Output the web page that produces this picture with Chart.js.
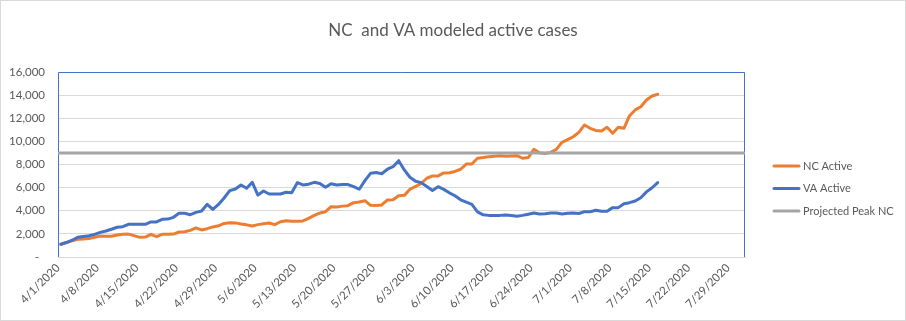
<!DOCTYPE html>
<html>
<head>
<meta charset="utf-8">
<title>NC and VA modeled active cases</title>
<script src="https://cdn.jsdelivr.net/npm/chart.js@4.4.1/dist/chart.umd.min.js"></script>
<style>
  html, body { margin: 0; padding: 0; background: #fff; }
  #wrap { width: 906px; height: 321px; }
</style>
</head>
<body>
<div id="wrap"><canvas id="casesChart" width="906" height="321"></canvas></div>
<script>
// ===== Modeled active cases, daily from 4/1/2020 =====

const chartTitle = 'NC  and VA modeled active cases';

// x axis tick labels, one per week
const tickLabels = ['4/1/2020', '4/8/2020', '4/15/2020', '4/22/2020', '4/29/2020', '5/6/2020',
    '5/13/2020', '5/20/2020', '5/27/2020', '6/3/2020', '6/10/2020', '6/17/2020',
    '6/24/2020', '7/1/2020', '7/8/2020', '7/15/2020', '7/22/2020', '7/29/2020'];

const seriesNames = ['NC Active', 'VA Active', 'Projected Peak NC'];

// daily values, 4/1 through 7/16
const ncActive = [
    1100, 1250, 1400, 1530, 1560, 1590, 1700, 1820, 1790, 1800,
    1900, 1960, 1980, 1850, 1700, 1720, 1960, 1760, 1960, 1960,
    1980, 2160, 2180, 2300, 2510, 2340, 2450, 2600, 2700, 2900,
    2970, 2950, 2850, 2780, 2680, 2800, 2880, 2940, 2800, 3050,
    3140, 3100, 3100, 3120, 3340, 3600, 3800, 3920, 4350, 4320,
    4400, 4440, 4700, 4760, 4870, 4470, 4450, 4500, 4930, 4960,
    5300, 5330, 5860, 6100, 6370, 6810, 7010, 7010, 7270, 7290,
    7400, 7590, 8040, 8040, 8540, 8600, 8680, 8720, 8760, 8710,
    8740, 8760, 8540, 8600, 9310, 9010, 8960, 9050, 9310, 9920,
    10150, 10400, 10780, 11420, 11130, 10950, 10900, 11220, 10700, 11220,
    11130, 12220, 12720, 13000, 13580, 13930, 14070
];

const vaActive = [
    1100, 1250, 1450, 1700, 1780, 1840, 1950, 2130, 2250, 2400,
    2570, 2620, 2830, 2830, 2830, 2830, 3030, 3030, 3260, 3280,
    3430, 3780, 3780, 3660, 3860, 3980, 4560, 4120, 4550, 5100,
    5740, 5880, 6230, 5940, 6460, 5360, 5710, 5450, 5450, 5450,
    5600, 5560, 6430, 6230, 6300, 6460, 6350, 6030, 6340, 6230,
    6280, 6260, 6080, 5860, 6600, 7240, 7300, 7200, 7590, 7810,
    8330, 7530, 6900, 6550, 6430, 6100, 5750, 6080, 5850, 5550,
    5300, 4950, 4750, 4550, 3900, 3650, 3600, 3600, 3600, 3630,
    3580, 3520, 3600, 3700, 3810, 3720, 3750, 3800, 3810, 3720,
    3780, 3810, 3760, 3920, 3920, 4040, 3950, 3950, 4270, 4270,
    4610, 4700, 4840, 5130, 5630, 5990, 6440
];

const projectedPeak = 9000;

const yTicks = [0, 2000, 4000, 6000, 8000, 10000, 12000, 14000, 16000];

const colors = ['#ED7D31', '#4472C4', '#A5A5A5'];
const textColor = '#595959';
const gridColor = '#D9D9D9';
const fontFamily = 'Lato, "Open Sans", sans-serif';

// days shown on the axis (4/1 .. 8/1)
const DAY_SPAN = 122;

/**
 * Points sit in the middle of their day slot
 */
function toPoints(values) {
    return values.map((v, i) => ({ x: i + 0.5, y: v }));
}

/**
 * White background, outer frame, title and the blue plot-area border
 */
const frame = {
    id: 'frame',
    beforeDraw(chart) {
        const ctx = chart.ctx;
        ctx.save();
        ctx.fillStyle = '#fff';
        ctx.fillRect(0, 0, chart.width, chart.height);
        ctx.strokeStyle = gridColor;
        ctx.lineWidth = 1;
        ctx.strokeRect(0.5, 0.5, chart.width - 1, chart.height - 1);

        // title centred on the whole chart, not only the plot
        ctx.font = '17px ' + fontFamily;
        ctx.fillStyle = textColor;
        ctx.textAlign = 'center';
        ctx.textBaseline = 'middle';
        ctx.fillText(chartTitle, chart.width / 2, 31);
        ctx.restore();
    },
    beforeDatasetsDraw(chart) {
        const { ctx, chartArea: a } = chart;
        ctx.save();
        ctx.strokeStyle = '#4472C4';
        ctx.lineWidth = 1;
        ctx.beginPath();
        ctx.moveTo(a.left + 0.5, a.bottom);
        ctx.lineTo(a.left + 0.5, a.top + 0.5);
        ctx.lineTo(a.right - 0.5, a.top + 0.5);
        ctx.lineTo(a.right - 0.5, a.bottom);
        ctx.stroke();
        ctx.restore();
    }
};

/**
 * Legend on the right side, short line samples
 */
const sideLegend = {
    id: 'sideLegend',
    afterDraw(chart) {
        const ctx = chart.ctx;
        ctx.save();
        ctx.font = '11px ' + fontFamily;
        ctx.fillStyle = textColor;
        ctx.textBaseline = 'middle';
        ctx.lineWidth = 3;
        ctx.lineCap = 'round';
        chart.data.datasets.forEach((ds, i) => {
            const y = 166 + i * 22.5;
            ctx.strokeStyle = ds.borderColor;
            ctx.beginPath();
            ctx.moveTo(774, y);
            ctx.lineTo(799, y);
            ctx.stroke();
            ctx.fillText(ds.label, 803, y);
        });
        ctx.restore();
    }
};

const lineStyle = {
    borderWidth: 3,
    pointRadius: 0,
    pointHoverRadius: 0,
    tension: 0,
    borderJoinStyle: 'round',
    borderCapStyle: 'round',
    fill: false
};

new Chart(document.getElementById('casesChart').getContext('2d'), {
    type: 'line',
    data: {
        datasets: [
            Object.assign({
                label: seriesNames[0],
                data: toPoints(ncActive),
                borderColor: colors[0],
                backgroundColor: colors[0],
                order: 3
            }, lineStyle),
            Object.assign({
                label: seriesNames[1],
                data: toPoints(vaActive),
                borderColor: colors[1],
                backgroundColor: colors[1],
                order: 2
            }, lineStyle),
            Object.assign({
                label: seriesNames[2],
                data: [{ x: 0, y: projectedPeak }, { x: DAY_SPAN, y: projectedPeak }],
                borderColor: colors[2],
                backgroundColor: colors[2],
                order: 1
            }, lineStyle)
        ]
    },
    options: {
        responsive: false,
        devicePixelRatio: 1,
        animation: false,
        layout: {
            padding: { left: 0, right: 161, top: 72, bottom: 0 }
        },
        plugins: {
            legend: { display: false },
            tooltip: { enabled: false },
            title: { display: false }
        },
        scales: {
            x: {
                type: 'linear',
                min: 0,
                max: DAY_SPAN,
                afterFit: function(scale) {
                    scale.height = 64;
                },
                ticks: {
                    stepSize: 7,
                    includeBounds: false,
                    autoSkip: false,
                    maxRotation: 45,
                    minRotation: 45,
                    padding: 4,
                    color: textColor,
                    font: { family: fontFamily, size: 11.5 },
                    callback: function(value) {
                        return tickLabels[value / 7] || '';
                    }
                },
                grid: { display: false, drawTicks: false },
                border: { display: true, color: gridColor, width: 1 }
            },
            y: {
                min: yTicks[0],
                max: yTicks[yTicks.length - 1],
                afterFit: function(scale) {
                    scale.width = 58;
                },
                afterBuildTicks: function(scale) {
                    scale.ticks = yTicks.map(v => ({ value: v }));
                },
                ticks: {
                    padding: 13,
                    color: textColor,
                    font: { family: fontFamily, size: 11.5 },
                    callback: function(value) {
                        return value === 0 ? '-  ' : value.toLocaleString('en-US');
                    }
                },
                grid: { color: gridColor, lineWidth: 1, drawTicks: false },
                border: { display: false }
            }
        }
    },
    plugins: [frame, sideLegend]
});
</script>
</body>
</html>
